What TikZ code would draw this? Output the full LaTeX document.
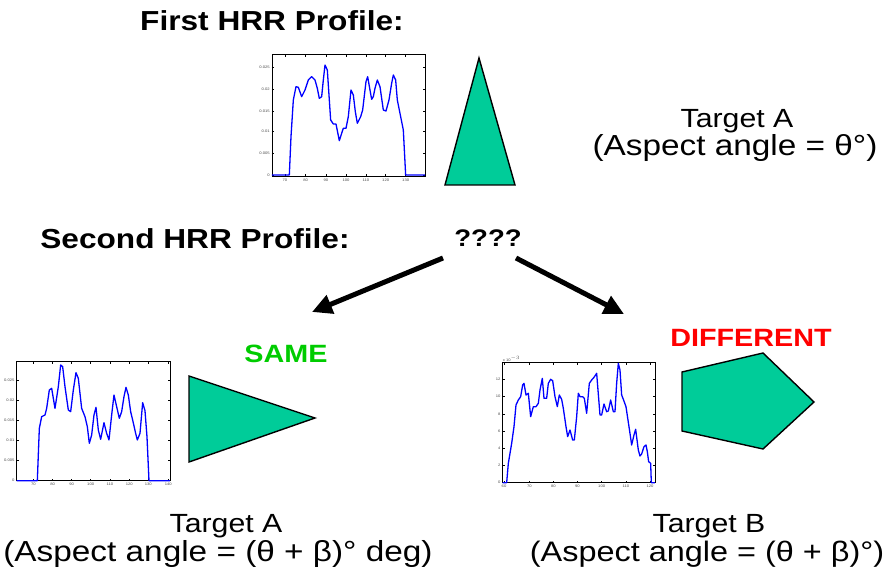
\documentclass[tikz,border=0pt]{standalone}
\usepackage{fontspec}
\setmainfont[FakeStretch=1.15]{Liberation Sans}
\usetikzlibrary{arrows.meta}
\definecolor{teal1}{HTML}{00CC99}
\definecolor{samegreen}{HTML}{00CC00}
\definecolor{diffred}{HTML}{FF0000}
\definecolor{curveblue}{HTML}{0000FF}
\tikzset{
  heading/.style={anchor=base,inner sep=0pt,font=\fontsize{27.5}{32}\selectfont\bfseries},
  tagline/.style={anchor=base,inner sep=0pt,font=\fontsize{26.3}{30}\selectfont},
  angline/.style={anchor=base,inner sep=0pt,font=\fontsize{29}{34}\selectfont},
  verdict/.style={anchor=base,inner sep=0pt,font=\fontsize{25}{30}\selectfont\bfseries},
  shapefill/.style={fill=teal1,draw=black,line width=1.4pt,line join=miter},
  frame/.style={draw=black,line width=0.7pt},
  curve/.style={draw=curveblue,line width=1.3pt,line join=round},
  ticklab/.style={inner sep=0pt,font=\fontsize{3.6}{4}\selectfont,text=black!70},
  bigarrow/.style={line width=5pt,-{Triangle[length=20pt,width=19pt]}},
}
\begin{document}
\begin{tikzpicture}[x=1pt,y=-1pt]
\useasboundingbox (0,0) rectangle (887,583);

% ---------- headings ----------
\node[heading] (h1) at (272,31) {First HRR Profile:};
\node[heading] (h2) at (195,248) {Second HRR Profile:};
\node[heading,font=\fontsize{24}{28}\selectfont\bfseries] (q) at (488,247) {????};

% ---------- top target A ----------
\node[tagline] (ta1) at (737,128) {Target A};
\node[angline] (ta2) at (735,156) {(Aspect angle = θ°)};

% ---------- bottom labels ----------
\node[tagline] (tb1) at (226,532) {Target A};
\node[angline] (tb2) at (218,561) {(Aspect angle = (θ + β)° deg)};
\node[tagline] (tc1) at (709,532) {Target B};
\node[angline,font=\fontsize{28.2}{33}\selectfont] (tc2) at (707,561) {(Aspect angle = (θ + β)°)};

\node[verdict,text=samegreen] (same) at (286,362) {SAME};
\node[verdict,text=diffred] (diff) at (751,346) {DIFFERENT};

% ---------- shapes ----------
\draw[shapefill] (479,58) -- (515,185) -- (445,185) -- cycle;
\draw[shapefill] (189,376) -- (315,418) -- (189,462) -- cycle;
\draw[shapefill] (682,372) -- (763,353) -- (814,402) -- (763,449) -- (682,431) -- cycle;

% ---------- arrows ----------
\coordinate (a1s) at (443,258);
\coordinate (a1e) at (312,312);
\coordinate (a2s) at (516,258);
\coordinate (a2e) at (624,314);
\draw[bigarrow] (a1s) -- (a1e);
\draw[bigarrow] (a2s) -- (a2e);

% ---------- plot 1 ----------
\begin{scope}[shift={(240pt,-50pt)},x=0.3333pt,y=-0.3333pt]
  \draw[frame] (96,14) rectangle (555,378);
  \foreach \yy/\lab in {52/0.025,118/0.02,183/0.015,245/0.01,311/0.005,375/0} {
    \draw[frame,line width=0.4pt] (96,\yy) -- ++(6,0);
    \draw[frame,line width=0.4pt] (555,\yy) -- ++(-6,0);
    \node[ticklab,anchor=east] at (90,\yy) {\lab};
  }
  \foreach \xx/\lab in {135/70,197/80,258/90,318/100,378/110,437/120,497/130} {
    \draw[frame,line width=0.4pt] (\xx,378) -- ++(0,-6);
    \draw[frame,line width=0.4pt] (\xx,14) -- ++(0,6);
    \node[ticklab,anchor=north] at (\xx,385) {\lab};
  }
  \draw[curve] (96,375) -- (148,375) -- (153,260) -- (160,150) -- (168,110) -- (175,112) -- (185,140) -- (195,120) -- (205,90) -- (215,80) -- (225,90) -- (232,115) -- (238,145) -- (245,140) -- (250,90) -- (255,45) -- (262,60) -- (268,150) -- (272,210) -- (280,222) -- (288,222) -- (298,272) -- (305,250) -- (310,235) -- (318,235) -- (325,200) -- (333,120) -- (340,135) -- (346,185) -- (352,220) -- (362,200) -- (368,180) -- (378,95) -- (383,80) -- (390,120) -- (395,148) -- (400,140) -- (405,115) -- (412,90) -- (420,110) -- (430,180) -- (438,183) -- (447,150) -- (455,100) -- (460,75) -- (467,90) -- (472,150) -- (480,190) -- (490,240) -- (497,375) -- (555,375);
\end{scope}

% ---------- plot 2 ----------
\begin{scope}[shift={(0pt,-350pt)},x=0.3333pt,y=-0.3333pt]
  \draw[frame] (50,35) rectangle (510,392);
  \foreach \yy/\lab in {90/0.025,150/0.02,212/0.015,272/0.01,332/0.005,392/0} {
    \draw[frame,line width=0.4pt] (50,\yy) -- ++(6,0);
    \draw[frame,line width=0.4pt] (510,\yy) -- ++(-6,0);
    \node[ticklab,anchor=east] at (44,\yy) {\lab};
  }
  \foreach \xx/\lab in {100/70,158/80,215/90,272/100,330/110,388/120,445/130,505/140} {
    \draw[frame,line width=0.4pt] (\xx,392) -- ++(0,-6);
    \draw[frame,line width=0.4pt] (\xx,35) -- ++(0,6);
    \node[ticklab,anchor=north] at (\xx,399) {\lab};
  }
  \draw[curve] (50,392) -- (112,392) -- (118,235) -- (125,200) -- (135,195) -- (140,175) -- (148,120) -- (155,115) -- (165,175) -- (175,110) -- (182,45) -- (188,50) -- (195,110) -- (205,180) -- (212,185) -- (220,120) -- (228,68) -- (235,85) -- (245,175) -- (255,200) -- (262,230) -- (268,280) -- (275,255) -- (282,195) -- (288,172) -- (295,240) -- (302,268) -- (312,218) -- (320,250) -- (327,270) -- (335,195) -- (342,135) -- (350,170) -- (358,205) -- (365,185) -- (372,140) -- (378,112) -- (385,135) -- (392,185) -- (398,210) -- (407,250) -- (412,270) -- (420,250) -- (428,158) -- (435,182) -- (441,260) -- (447,392) -- (510,392);
\end{scope}

% ---------- plot 3 ----------
\begin{scope}[shift={(490pt,-350pt)},x=0.3333pt,y=-0.3333pt]
  \draw[frame] (38,38) rectangle (495,398);
  \foreach \yy/\lab in {88/12,140/10,192/8,243/6,295/4,347/2,398/0} {
    \draw[frame,line width=0.4pt] (38,\yy) -- ++(6,0);
    \draw[frame,line width=0.4pt] (495,\yy) -- ++(-6,0);
    \node[ticklab,anchor=east] at (32,\yy) {\lab};
  }
  \foreach \xx/\lab in {42/60,118/70,190/80,262/90,335/100,408/110,480/120} {
    \draw[frame,line width=0.4pt] (\xx,398) -- ++(0,-6);
    \draw[frame,line width=0.4pt] (\xx,38) -- ++(0,6);
    \node[ticklab,anchor=north] at (\xx,404) {\lab};
  }
  \node[ticklab,anchor=south west] at (38,34) {x 10$^{-3}$};
  \draw[curve] (38,398) -- (50,398) -- (55,340) -- (65,280) -- (72,230) -- (78,165) -- (85,150) -- (92,140) -- (98,105) -- (102,100) -- (108,135) -- (115,130) -- (122,200) -- (130,170) -- (138,170) -- (145,160) -- (150,120) -- (157,85) -- (162,145) -- (170,145) -- (175,100) -- (182,88) -- (188,92) -- (195,140) -- (202,170) -- (208,135) -- (215,148) -- (220,175) -- (228,230) -- (233,260) -- (240,240) -- (248,270) -- (253,270) -- (260,200) -- (265,130) -- (270,140) -- (278,140) -- (283,145) -- (290,190) -- (298,100) -- (305,90) -- (312,82) -- (320,70) -- (330,195) -- (335,195) -- (342,162) -- (350,185) -- (355,183) -- (362,150) -- (370,185) -- (375,185) -- (380,100) -- (385,40) -- (390,60) -- (395,135) -- (400,148) -- (408,170) -- (420,250) -- (425,285) -- (432,255) -- (437,238) -- (445,300) -- (450,318) -- (455,312) -- (462,290) -- (468,285) -- (472,305) -- (476,335) -- (482,340) -- (484,398) -- (495,398);
\end{scope}
\end{tikzpicture}
\end{document}
